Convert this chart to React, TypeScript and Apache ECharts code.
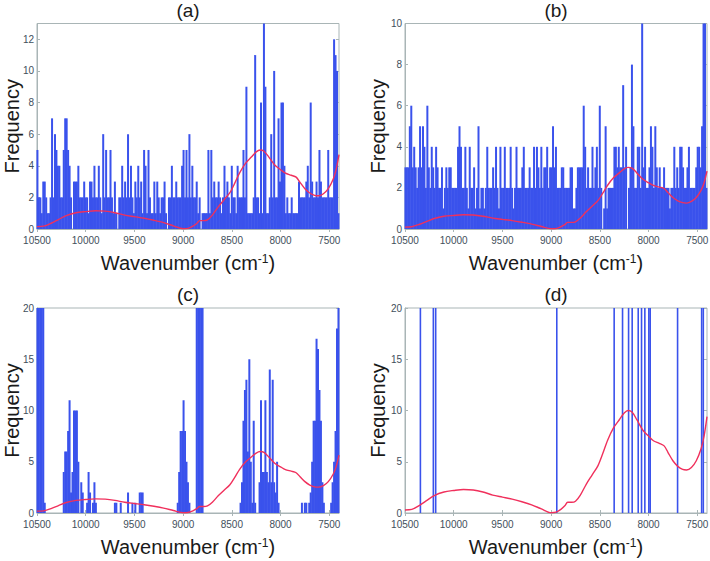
import React, { useEffect, useRef } from "react";
import * as echarts from "echarts";

const xTicks = [10500, 10000, 9500, 9000, 8500, 8000, 7500];
const yTicksA = [0, 2, 4, 6, 8, 10, 12];
const yTicksB = [0, 2, 4, 6, 8, 10];
const yTicksC = [0, 5, 10, 15, 20];
const yTicksD = [0, 5, 10, 15, 20];
const panelNames = ["(a)", "(b)", "(c)", "(d)"];

const binStart = 10500;
const binWidth = 15;

const countsA = [
  5,2,2,1,3,3,2,1,1,2, 7,2,6,5,4,4,2,2,5,7, 7,5,4,2,0,3,3,3,4,2, 2,2,3,2,2,1,3,3,2,4,
  2,2,4,2,1,6,2,5,2,2, 5,2,1,3,1,0,2,2,4,2, 3,2,6,2,4,2,1,3,2,4, 2,3,1,5,4,1,5,2,1,1,
  3,1,3,2,1,2,2,3,1,0, 2,2,4,2,2,3,2,2,2,4, 5,2,5,2,6,2,4,2,2,3, 1,2,0,1,1,1,1,5,1,5,
  2,3,2,2,3,2,1,2,4,2, 3,2,1,4,2,2,1,4,2,2, 2,5,2,9,1,1,1,1,2,11, 2,2,1,8,1,13,9,1,1,2,
  6,2,10,2,2,7,3,8,8,4, 1,2,1,1,2,1,1,1,1,3, 2,2,2,2,3,4,2,8,3,2, 2,3,2,5,3,2,2,2,2,5,
  2,2,2,12,11,10,1,
];
const countsB = [
  3,3,3,5,6,3,4,3,2,3, 5,3,5,4,2,6,3,2,4,3, 2,4,3,2,2,3,1,2,3,2, 3,3,2,2,2,2,4,5,4,2,
  2,4,2,1,4,2,2,3,1,2, 5,1,2,2,1,2,4,2,2,2, 3,2,4,2,1,4,2,2,4,2, 2,2,4,2,1,2,4,2,2,2,
  3,4,2,2,2,3,2,2,4,2, 4,3,2,4,2,3,3,4,2,3, 3,5,3,4,2,2,2,3,3,2, 2,2,2,3,3,1,1,2,3,3,
  3,3,6,4,2,3,2,2,4,2, 3,4,2,6,2,0,1,5,1,2, 2,2,2,4,4,3,4,3,3,7, 3,4,0,2,3,8,5,2,2,4,
  4,2,10,3,4,2,2,3,5,4, 2,5,3,2,3,2,2,3,2,2, 2,1,2,2,4,2,3,2,4,4, 3,2,2,3,4,2,2,2,2,3,
  4,4,3,5,10,10,2,
];
const countsC = [
  20,20,20,20,20,1,0,0,0,0, 0,0,0,0,0,0,0,0,4,6, 6,8,11,2,4,10,10,10,5,0, 3,2,0,0,1,4,2,0,1,3,
  1,0,0,0,0,0,0,0,0,0, 0,0,0,1,1,0,0,1,0,0, 0,0,2,0,0,1,0,1,0,0, 2,2,2,0,0,0,0,0,0,0,
  0,0,0,0,0,0,0,0,0,0, 0,0,0,0,0,0,1,4,8,8, 11,8,5,3,1,0,0,0,0,20, 20,20,20,20,0,0,0,0,0,0,
  0,0,0,0,0,0,0,0,0,0, 0,0,0,0,0,0,0,0,0,1, 3,9,12,13,6,15,5,1,9,1, 0,0,3,11,4,4,11,4,3,14,
  3,13,3,2,5,1,0,0,0,0, 0,0,0,0,0,0,0,0,0,0, 0,1,0,1,1,0,1,2,5,9, 9,17,16,12,9,3,1,0,0,0,
  0,1,3,5,8,18,20,
];
const spikeWavesD = [10342,10209,10185,8942,8353,8267,8205,8168,8106,8072,8038,7997,7983,7702,7455,7438];
const spikeCountD = 20;

const curveWaves = [
  10500,10430,10350,10280,10200,10100,10000,9900,9800,9700,9600,9500,9400,9300,9200,9100,9000,8950,8900,8860,
  8830,8790,8750,8700,8640,8580,8520,8470,8420,8360,8300,8250,8210,8170,8120,8060,8000,7950,7890,7840,
  7800,7750,7700,7650,7610,7560,7510,7460,7430,7400,
];
const curveA = [
  .15,.18,.38,.6,.85,1.03,1.1,1.15,1.13,1.03,.88,.78,.68,.55,.4,.2,.02,.04,.18,.35,
  .53,.53,.58,.88,1.4,1.85,2.3,2.9,3.55,4.15,4.55,4.88,5,4.92,4.55,4.05,3.75,3.53,3.4,3.28,
  2.95,2.55,2.28,2.13,2.1,2.23,2.55,3.15,3.75,4.7,
];
const curveB = [
  .09,.11,.23,.36,.51,.62,.66,.69,.68,.62,.53,.47,.41,.33,.24,.12,.01,.02,.11,.21,
  .32,.32,.35,.53,.84,1.11,1.38,1.74,2.13,2.49,2.73,2.93,3,2.96,2.73,2.43,2.25,2.12,2.04,1.97,
  1.77,1.53,1.37,1.28,1.26,1.34,1.53,1.89,2.25,2.82,
];
const curveC = [
  .18,.21,.45,.72,1.02,1.23,1.32,1.38,1.35,1.23,1.05,.93,.81,.66,.48,.24,.02,.05,.21,.42,
  .63,.63,.69,1.05,1.68,2.22,2.76,3.48,4.26,4.98,5.46,5.85,6,5.91,5.46,4.86,4.5,4.23,4.08,3.93,
  3.54,3.06,2.73,2.55,2.52,2.67,3.06,3.78,4.5,5.64,
];
const curveD = [
  .3,.35,.75,1.2,1.7,2.05,2.2,2.3,2.25,2.05,1.75,1.55,1.35,1.1,.8,.4,.03,.08,.35,.7,
  1.05,1.05,1.15,1.75,2.8,3.7,4.6,5.8,7.1,8.3,9.1,9.75,10,9.85,9.1,8.1,7.5,7.05,6.8,6.55,
  5.9,5.1,4.55,4.25,4.2,4.45,5.1,6.3,7.5,9.4,
];

const FONT = "Liberation Sans";
const BLUE = "#3a52ec";
const RED = "#f0305c";
const FRAME = "#a9b5b6";
const TICK_TEXT = "#3f4f5c";

const hist = (counts: number[]) =>
  counts
    .map((c, i) => [binStart - binWidth * (i + 0.3), c])
    .filter((p) => p[1] > 0);

const panels = [
  { left: 37, top: 23.5, height: 205.5, yMax: 13, yTicks: yTicksA, bars: hist(countsA), curve: curveA, barW: 2 },
  { left: 405, top: 23.5, height: 205.5, yMax: 10, yTicks: yTicksB, bars: hist(countsB), curve: curveB, barW: 2 },
  { left: 37, top: 308, height: 205, yMax: 20, yTicks: yTicksC, bars: hist(countsC), curve: curveC, barW: 2 },
  { left: 405, top: 308, height: 205, yMax: 20, yTicks: yTicksD, bars: spikeWavesD.map((w) => [w, spikeCountD]), curve: curveD, barW: 1.6 },
];

function buildOption() {
  return {
    animation: false,
    backgroundColor: "#fff",
    title: panels.map((p, i) => ({
      text: panelNames[i],
      left: p.left + 151,
      top: p.top - 23,
      padding: 0,
      textAlign: "center",
      textStyle: { fontFamily: FONT, fontSize: 19, fontWeight: "normal", color: "#1a1a1a" },
    })),
    grid: panels.map((p) => ({
      left: p.left,
      top: p.top,
      width: 302,
      height: p.height,
      show: true,
      borderColor: FRAME,
      borderWidth: 1,
      backgroundColor: "#fff",
      outerBoundsMode: "none",
      containLabel: false,
    })),
    xAxis: [
      ...panels.map((p, i) => ({
        type: "value",
        gridIndex: i,
        inverse: true,
        min: 7400,
        max: 10500,
        name: "{a|Wavenumber (cm}{b|-1}{a|)}",
        nameLocation: "middle",
        nameGap: 24,
        nameTextStyle: {
          rich: {
            a: { fontFamily: FONT, fontSize: 20, color: "#1a1a1a", verticalAlign: "bottom" },
            b: { fontFamily: FONT, fontSize: 12, color: "#1a1a1a", verticalAlign: "top", padding: [0, 0, 8, 0] },
          },
        },
        splitLine: { show: false },
        axisLine: { show: true, onZero: false, lineStyle: { color: FRAME, width: 1 } },
        axisTick: { show: true, inside: true, length: 3, customValues: xTicks, lineStyle: { color: FRAME } },
        axisLabel: {
          customValues: xTicks,
          margin: 6,
          fontFamily: FONT,
          fontSize: 10,
          color: TICK_TEXT,
          hideOverlap: false,
          formatter: (v: number) => String(v),
        },
      })),
      ...panels.map((p, i) => ({
        type: "value",
        gridIndex: i,
        position: "top",
        inverse: true,
        min: 7400,
        max: 10500,
        splitLine: { show: false },
        axisLine: { show: false },
        axisTick: { show: true, inside: true, length: 3, customValues: xTicks, lineStyle: { color: FRAME } },
        axisLabel: { show: false },
      })),
    ],
    yAxis: [
      ...panels.map((p, i) => ({
        type: "value",
        gridIndex: i,
        min: 0,
        max: p.yMax,
        name: "Frequency",
        nameLocation: "middle",
        nameMoveOverlap: false,
        nameGap: i % 2 === 0 ? 15 : 17,
        nameTextStyle: { fontFamily: FONT, fontSize: 20, color: "#1a1a1a" },
        splitLine: { show: false },
        axisLine: { show: true, lineStyle: { color: FRAME, width: 1 } },
        axisTick: { show: true, inside: true, length: 3, customValues: p.yTicks, lineStyle: { color: FRAME } },
        axisLabel: { customValues: p.yTicks, margin: 3, fontFamily: FONT, fontSize: 10, color: TICK_TEXT, formatter: (v: number) => String(v) },
      })),
      ...panels.map((p, i) => ({
        type: "value",
        gridIndex: i,
        position: "right",
        min: 0,
        max: p.yMax,
        splitLine: { show: false },
        axisLine: { show: false },
        axisTick: { show: true, inside: true, length: 3, customValues: p.yTicks, lineStyle: { color: FRAME } },
        axisLabel: { show: false },
      })),
    ],
    series: panels.flatMap((p, i) => [
      {
        type: "bar",
        xAxisIndex: i,
        yAxisIndex: i,
        data: p.bars,
        barWidth: p.barW,
        itemStyle: { color: BLUE },
        silent: true,
        z: 2,
      },
      {
        type: "line",
        xAxisIndex: i,
        yAxisIndex: i,
        data: curveWaves.map((w, k) => [w, p.curve[k]]),
        smooth: 0.3,
        symbol: "none",
        lineStyle: { color: RED, width: 1.4 },
        silent: true,
        z: 3,
      },
    ]),
  };
}

export default function App() {
  const ref = useRef<HTMLDivElement>(null);
  useEffect(() => {
    const chart = echarts.init(ref.current!, undefined, { renderer: "svg" });
    chart.setOption(buildOption() as any);
    return () => chart.dispose();
  }, []);
  return <div ref={ref} style={{ position: "absolute", left: 0, top: 0, width: 710, height: 561 }} />;
}
